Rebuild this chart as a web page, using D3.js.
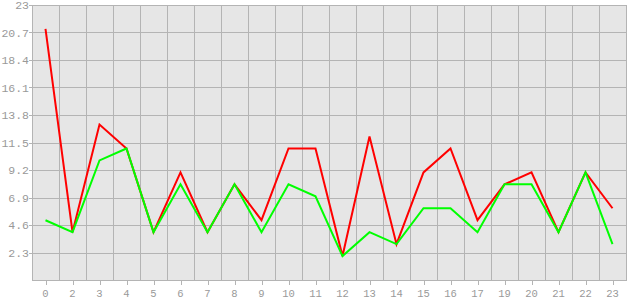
<!DOCTYPE html>
<html><head><meta charset="utf-8">
<script src="https://cdn.jsdelivr.net/npm/d3@7"></script>
<style>html,body{margin:0;padding:0;background:#fff;}</style>
</head><body>
<svg id="c" width="630" height="300"></svg>
<script>
const categories = ["0","2","3","4","5","6","7","8","9","10","11","12","13","14","15","16","17","19","20","21","22","23"];
const redValues   = [21,4,13,11,4,9,4,8,5,11,11,2,12,3,9,11,5,8,9,4,9,6];
const greenValues = [5,4,10,11,4,8,4,8,4,8,7,2,4,3,6,6,4,8,8,4,9,3];
const yTicks = [2.3,4.6,6.9,9.2,11.5,13.8,16.1,18.4,20.7,23];
const yTickLabels = ["2.3","4.6","6.9","9.2","11.5","13.8","16.1","18.4","20.7","23"];

const svg = d3.select("#c");
const L = 32, R = 626, T = 5, B = 280;
const x = d3.scaleBand().domain(categories).range([L, R]).padding(0);
const y = d3.scaleLinear().domain([0, 23]).range([B, T]);
const gridC = "#b4b4b4", textC = "#999999";
const font = "'Liberation Mono', 'Courier New', monospace";

svg.append("rect").attr("x", L).attr("y", T).attr("width", R - L).attr("height", B - T).attr("fill", "#e6e6e6");

const g = svg.append("g").attr("shape-rendering", "crispEdges");
g.selectAll("line.h").data(yTicks).enter().append("line")
  .attr("x1", L - 3).attr("x2", R).attr("y1", d => Math.round(y(d)) + 0.5).attr("y2", d => Math.round(y(d)) + 0.5)
  .attr("stroke", gridC);
const edges = categories.map(c => x(c)).concat([R]);
g.selectAll("line.v").data(edges).enter().append("line")
  .attr("x1", d => Math.round(d) + 0.5).attr("x2", d => Math.round(d) + 0.5).attr("y1", T).attr("y2", B)
  .attr("stroke", gridC);
g.append("line").attr("x1", L).attr("x2", R + 1).attr("y1", B + 0.5).attr("y2", B + 0.5).attr("stroke", gridC);
g.selectAll("line.xt").data(categories).enter().append("line")
  .attr("x1", d => Math.round(x(d) + x.bandwidth() / 2) + 0.5).attr("x2", d => Math.round(x(d) + x.bandwidth() / 2) + 0.5)
  .attr("y1", B).attr("y2", B + 5).attr("stroke", gridC);

svg.selectAll("text.y").data(yTicks).enter().append("text")
  .attr("x", L - 3).attr("y", d => y(d)).attr("dy", "0.36em").attr("text-anchor", "end")
  .attr("font-family", font).attr("font-size", 11.5).attr("fill", textC)
  .text((d, i) => yTickLabels[i]);
svg.selectAll("text.x").data(categories).enter().append("text")
  .attr("x", d => x(d) + x.bandwidth() / 2).attr("y", 297).attr("text-anchor", "middle")
  .attr("font-family", font).attr("font-size", 10.5).attr("fill", textC)
  .text(d => d);

const line = d3.line().x((d, i) => x(categories[i]) + x.bandwidth() / 2).y(d => y(d));
svg.append("path").datum(redValues).attr("d", line).attr("fill", "none").attr("stroke", "#ff0000").attr("stroke-width", 2).attr("stroke-linejoin", "miter");
svg.append("path").datum(greenValues).attr("d", line).attr("fill", "none").attr("stroke", "#00ff00").attr("stroke-width", 2).attr("stroke-linejoin", "miter");
</script>
</body></html>
